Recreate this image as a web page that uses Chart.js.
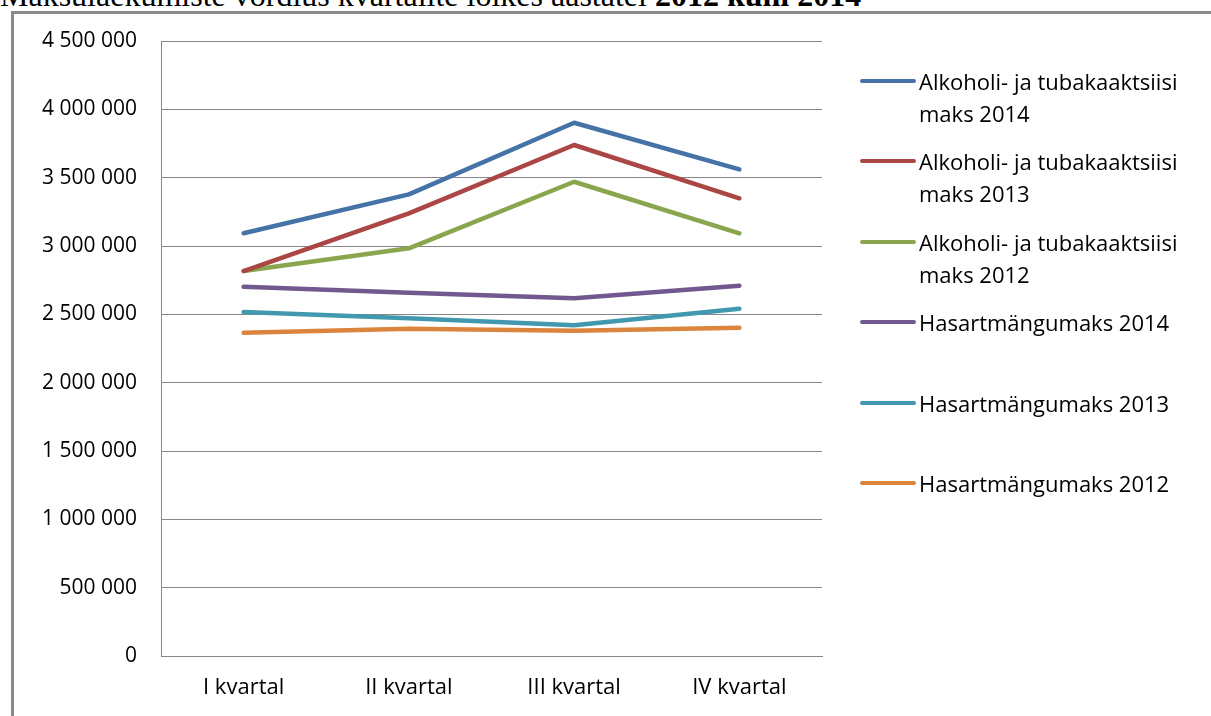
<!DOCTYPE html>
<html lang="et">
<head>
<meta charset="utf-8">
<title>Maksulaekumiste võrdlus</title>
<script src="https://cdn.jsdelivr.net/npm/chart.js@4.4.1/dist/chart.umd.min.js"></script>
<style>
  html, body {
    margin: 0;
    padding: 0;
    background: #ffffff;
    overflow: hidden;
  }
  #wrap {
    position: relative;
    width: 1211px;
    height: 716px;
  }
  #title {
    position: absolute;
    left: 0;
    top: -21px;
    font-family: "Liberation Serif", serif;
    font-size: 32px;
    line-height: 32px;
    white-space: nowrap;
    color: #000;
  }
  #frame {
    position: absolute;
    left: 11px;
    top: 11px;
    width: 1300px;
    height: 800px;
    border: 3px solid #8a8a8a;
    box-sizing: border-box;
    background: #fff;
  }
  #chartCanvas {
    position: absolute;
    left: 0;
    top: 0;
  }
  #legend {
    position: absolute;
    left: 860px;
    top: 0;
    width: 351px;
  }
  .leg-item {
    position: absolute;
    left: 0;
    width: 351px;
  }
  .leg-line {
    position: absolute;
    left: 0;
    width: 56px;
    height: 4px;
    border-radius: 2px;
  }
  .leg-text {
    position: absolute;
    left: 59px;
    width: 292px;
    font-family: "Open Sans", sans-serif;
    font-size: 22px;
    line-height: 32px;
    color: #000;
  }
</style>
</head>
<body>
<div id="wrap">
  <div id="title">Maksulaekumiste võrdlus kvartalite lõikes aastatel <b>2012 kuni 2014</b></div>
  <div id="frame"></div>
  <canvas id="chartCanvas" width="1211" height="716"></canvas>
  <div id="legend"></div>
</div>

<script>
// Andmed
const kvartalid = ["I kvartal", "II kvartal", "III kvartal", "IV kvartal"];

const alkoTubakas2014 = [3093000, 3378000, 3902000, 3561000];
const alkoTubakas2013 = [2817000, 3239000, 3739000, 3349000];
const alkoTubakas2012 = [2817000, 2983000, 3470000, 3093000];
const hasart2014 = [2702000, 2658000, 2617000, 2709000];
const hasart2013 = [2517000, 2471000, 2420000, 2541000];
const hasart2012 = [2366000, 2395000, 2380000, 2402000];

const seeriaNimed = [
  "Alkoholi- ja tubakaaktsiisi maks 2014",
  "Alkoholi- ja tubakaaktsiisi maks 2013",
  "Alkoholi- ja tubakaaktsiisi maks 2012",
  "Hasartmängumaks 2014",
  "Hasartmängumaks 2013",
  "Hasartmängumaks 2012"
];

const seeriaVarvid = ["#4572a7", "#aa4643", "#89a54e", "#71588f", "#4198af", "#db843d"];

const seeriad = [alkoTubakas2014, alkoTubakas2013, alkoTubakas2012, hasart2014, hasart2013, hasart2012];

// Arvude vorming: 4 500 000
function formatNumber(v) {
  return String(v).replace(/\B(?=(\d{3})+(?!\d))/g, " ");
}

const datasets = seeriad.map((data, i) => {
  return {
    label: seeriaNimed[i],
    data: data,
    borderColor: seeriaVarvid[i],
    backgroundColor: seeriaVarvid[i],
    borderWidth: 4.5,
    borderCapStyle: "round",
    borderJoinStyle: "round",
    pointRadius: 0,
    tension: 0
  };
});

const gridColor = "#868686";

new Chart(document.getElementById("chartCanvas"), {
  type: "line",
  data: {
    labels: kvartalid,
    datasets: datasets
  },
  options: {
    responsive: false,
    animation: false,
    layout: {
      padding: { left: 0, top: 41, right: 389, bottom: 0 }
    },
    plugins: {
      legend: { display: false },
      tooltip: { enabled: false }
    },
    scales: {
      x: {
        offset: true,
        grid: { display: false, drawTicks: false },
        border: { display: true, color: gridColor, width: 1 },
        ticks: {
          color: "#000",
          padding: 19,
          font: { family: "Open Sans", size: 22 }
        },
        afterFit: (scale) => {
          scale.height = 60;
        }
      },
      y: {
        min: 0,
        max: 4500000,
        grid: { color: gridColor, lineWidth: 1, drawTicks: false },
        border: { display: true, color: gridColor, width: 1 },
        ticks: {
          stepSize: 500000,
          color: "#000",
          padding: 24,
          font: { family: "Open Sans", size: 21 },
          callback: (v) => formatNumber(v)
        },
        afterFit: (scale) => {
          scale.width = 161;
        }
      }
    }
  }
});

// Legend (HTML, et pikk tekst murduks kaheks reaks)
const legendEl = document.getElementById("legend");
const legendTop = 81;
const legendStep = 80.4;

seeriaNimed.forEach((nimi, i) => {
  const item = document.createElement("div");
  item.className = "leg-item";
  item.style.top = (legendTop + i * legendStep) + "px";

  const line = document.createElement("div");
  line.className = "leg-line";
  line.style.top = "-2px";
  line.style.background = seeriaVarvid[i];

  const text = document.createElement("div");
  text.className = "leg-text";
  text.style.top = "-16px";
  text.textContent = nimi;

  item.appendChild(line);
  item.appendChild(text);
  legendEl.appendChild(item);
});
</script>
</body>
</html>
